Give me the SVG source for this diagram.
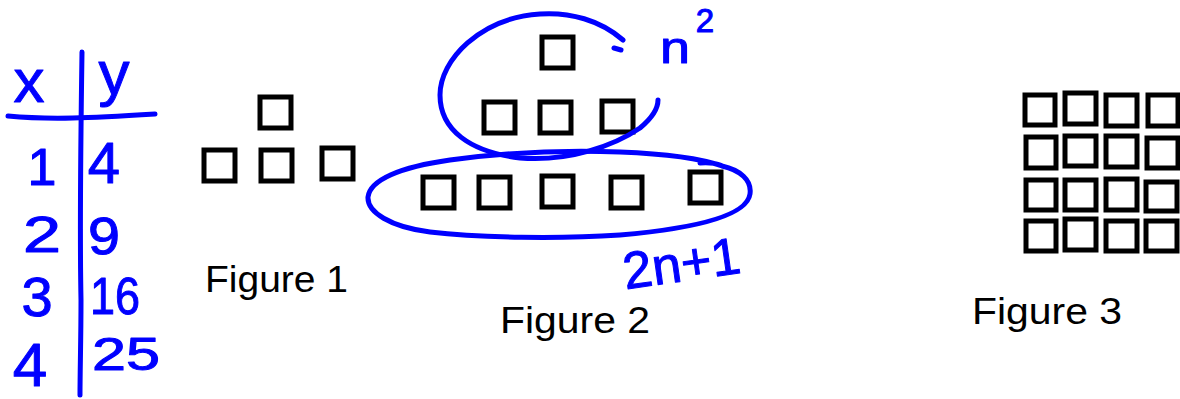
<svg xmlns="http://www.w3.org/2000/svg" width="1180" height="399" viewBox="0 0 1180 399">
<style>
.ink{fill:none;stroke:#0000ff;stroke-width:5;stroke-linecap:round;stroke-linejoin:round}
.hw{font-family:"Liberation Sans","DejaVu Sans",sans-serif;fill:#0000ff;stroke:#0000ff;stroke-width:1;stroke-linejoin:round;text-anchor:middle}
.sq{fill:none;stroke:#000;stroke-width:5}
.lbl{font-family:"Liberation Sans","DejaVu Sans",sans-serif;font-size:37px;fill:#000}
</style>
<rect width="1180" height="399" fill="#fff"/>
<g id="table">
<path class="ink" d="M82,52 C81,120 80,250 81,300 C81,340 80,370 80,395"/>
<path class="ink" d="M8,116 C50,120 90,118 155,114"/>
<text class="hw" x="29" y="102" font-size="62">x</text>
<text class="hw" x="114" y="94" font-size="62">y</text>
<text class="hw" x="42" y="185" font-size="52">1</text>
<text class="hw" x="104" y="183" font-size="58">4</text>
<text class="hw" x="42" y="252" font-size="50" textLength="38" lengthAdjust="spacingAndGlyphs">2</text>
<text class="hw" x="104" y="254" font-size="52" textLength="32" lengthAdjust="spacingAndGlyphs">9</text>
<text class="hw" x="37" y="316" font-size="56">3</text>
<text class="hw" x="115" y="314" font-size="52" textLength="50" lengthAdjust="spacingAndGlyphs">16</text>
<text class="hw" x="30" y="386" font-size="62">4</text>
<text class="hw" x="126" y="370" font-size="46" textLength="68" lengthAdjust="spacingAndGlyphs">25</text>
</g>
<g id="figure1">
<rect class="sq" x="260" y="97" width="31" height="31"/>
<rect class="sq" x="204" y="150" width="31" height="31"/>
<rect class="sq" x="261" y="150" width="31" height="31"/>
<rect class="sq" x="322" y="148" width="31" height="31"/>
<text class="lbl" x="205" y="292" textLength="143" lengthAdjust="spacingAndGlyphs">Figure 1</text>
</g>
<g id="figure2">
<rect class="sq" x="542" y="37" width="31" height="31"/>
<rect class="sq" x="484" y="102" width="31" height="31"/>
<rect class="sq" x="540" y="102" width="31" height="31"/>
<rect class="sq" x="602" y="101" width="31" height="31"/>
<rect class="sq" x="423" y="177" width="31" height="31"/>
<rect class="sq" x="479" y="177" width="31" height="31"/>
<rect class="sq" x="542" y="176" width="31" height="31"/>
<rect class="sq" x="611" y="177" width="31" height="31"/>
<rect class="sq" x="690" y="172" width="31" height="31"/>
<text class="lbl" x="500" y="333" textLength="150" lengthAdjust="spacingAndGlyphs">Figure 2</text>
</g>
<g id="annotations">
<path class="ink" d="M623,40 C600,20 570,12 540,14 C480,18 440,60 440,95 C440,130 470,152 520,158 C570,162 615,145 640,128 C652,118 658,108 658,100"/>
<path class="ink" d="M614,48 L621,50"/>
<path class="ink" d="M700,163 C710,162 720,164 722,166 C740,170 752,180 750,194 C747,215 700,228 620,235 C560,239 480,238 430,232 C390,227 367,212 368,197 C370,180 400,167 450,160 C500,153 560,150 620,152 C670,154 705,160 722,166"/>
<text class="hw" x="675" y="63" font-size="44" textLength="30" lengthAdjust="spacingAndGlyphs">n</text>
<text class="hw" x="705" y="32" font-size="33">2</text>
<text class="hw" x="0" y="0" font-size="52" textLength="118" lengthAdjust="spacingAndGlyphs" transform="translate(684,281) rotate(-8)">2n+1</text>
</g>
<g id="figure3">
<rect class="sq" x="1025" y="95" width="30" height="30"/>
<rect class="sq" x="1065" y="93" width="31" height="31"/>
<rect class="sq" x="1106" y="95" width="31" height="31"/>
<rect class="sq" x="1148" y="95" width="30" height="31"/>
<rect class="sq" x="1026" y="137" width="30" height="31"/>
<rect class="sq" x="1065" y="136" width="31" height="30"/>
<rect class="sq" x="1106" y="136" width="31" height="31"/>
<rect class="sq" x="1147" y="138" width="31" height="30"/>
<rect class="sq" x="1026" y="180" width="30" height="30"/>
<rect class="sq" x="1065" y="180" width="31" height="30"/>
<rect class="sq" x="1106" y="179" width="31" height="31"/>
<rect class="sq" x="1146" y="182" width="31" height="29"/>
<rect class="sq" x="1026" y="221" width="30" height="30"/>
<rect class="sq" x="1065" y="219" width="31" height="31"/>
<rect class="sq" x="1106" y="221" width="31" height="30"/>
<rect class="sq" x="1146" y="221" width="31" height="30"/>
<text class="lbl" x="972" y="324" textLength="150" lengthAdjust="spacingAndGlyphs">Figure 3</text>
</g>
</svg>
